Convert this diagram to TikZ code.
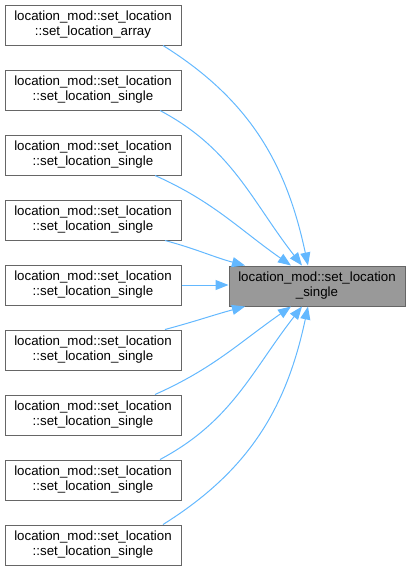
\documentclass[tikz,border=0pt]{standalone}
\usepackage{fontspec}
\setmainfont{Liberation Sans}
\usetikzlibrary{arrows.meta}
\definecolor{edgeblue}{HTML}{63B8FF}
\definecolor{boxborder}{HTML}{666666}
\definecolor{hlfill}{HTML}{999999}
\begin{document}
\begin{tikzpicture}[x=1pt,y=-1pt,
  fnbox/.style={draw=boxborder,line width=1pt,fill=white,minimum width=176pt,minimum height=40pt,inner sep=0pt,align=center,font=\fontsize{13.3}{15}\selectfont},
  hlbox/.style={fnbox,fill=hlfill},
  callarrow/.style={draw=edgeblue,line width=1pt,-{Triangle[length=13pt,width=10pt,fill=edgeblue]}}]
\useasboundingbox (0,0) rectangle (411,574);
\node[fnbox] (n1) at (93,25) {location\_mod::set\_location\\::set\_location\_array};
\node[fnbox] (n2) at (93,90) {location\_mod::set\_location\\::set\_location\_single};
\node[fnbox] (n3) at (93,155) {location\_mod::set\_location\\::set\_location\_single};
\node[fnbox] (n4) at (93,220) {location\_mod::set\_location\\::set\_location\_single};
\node[fnbox] (n5) at (93,285) {location\_mod::set\_location\\::set\_location\_single};
\node[fnbox] (n6) at (93,350) {location\_mod::set\_location\\::set\_location\_single};
\node[fnbox] (n7) at (93,415) {location\_mod::set\_location\\::set\_location\_single};
\node[fnbox] (n8) at (93,480) {location\_mod::set\_location\\::set\_location\_single};
\node[fnbox] (n9) at (93,545) {location\_mod::set\_location\\::set\_location\_single};
\node[hlbox] (t) at (317,286) {location\_mod::set\_location\\\_single};
% upper callers
\draw[callarrow] ([xshift=70pt]n1.south) to[out=-32,in=102] ([xshift=-9pt]t.north);
\draw[callarrow] ([xshift=67pt]n2.south) to[out=-28,in=128] ([xshift=-15pt]t.north);
\draw[callarrow] ([xshift=62pt]n3.south) to[out=-24,in=145] ([xshift=-26pt]t.north);
\draw[callarrow] ([xshift=72pt]n4.south) to[out=-15,in=165] ([xshift=-72pt]t.north);
\draw[callarrow] (n5.east) -- (n5.east -| t.west);
% lower callers
\draw[callarrow] ([xshift=72pt]n6.north) to[out=15,in=-165] ([xshift=-72pt]t.south);
\draw[callarrow] ([xshift=62pt]n7.north) to[out=24,in=-145] ([xshift=-26pt]t.south);
\draw[callarrow] ([xshift=67pt]n8.north) to[out=28,in=-128] ([xshift=-15pt]t.south);
\draw[callarrow] ([xshift=70pt]n9.north) to[out=32,in=-102] ([xshift=-9pt]t.south);
\end{tikzpicture}
\end{document}
